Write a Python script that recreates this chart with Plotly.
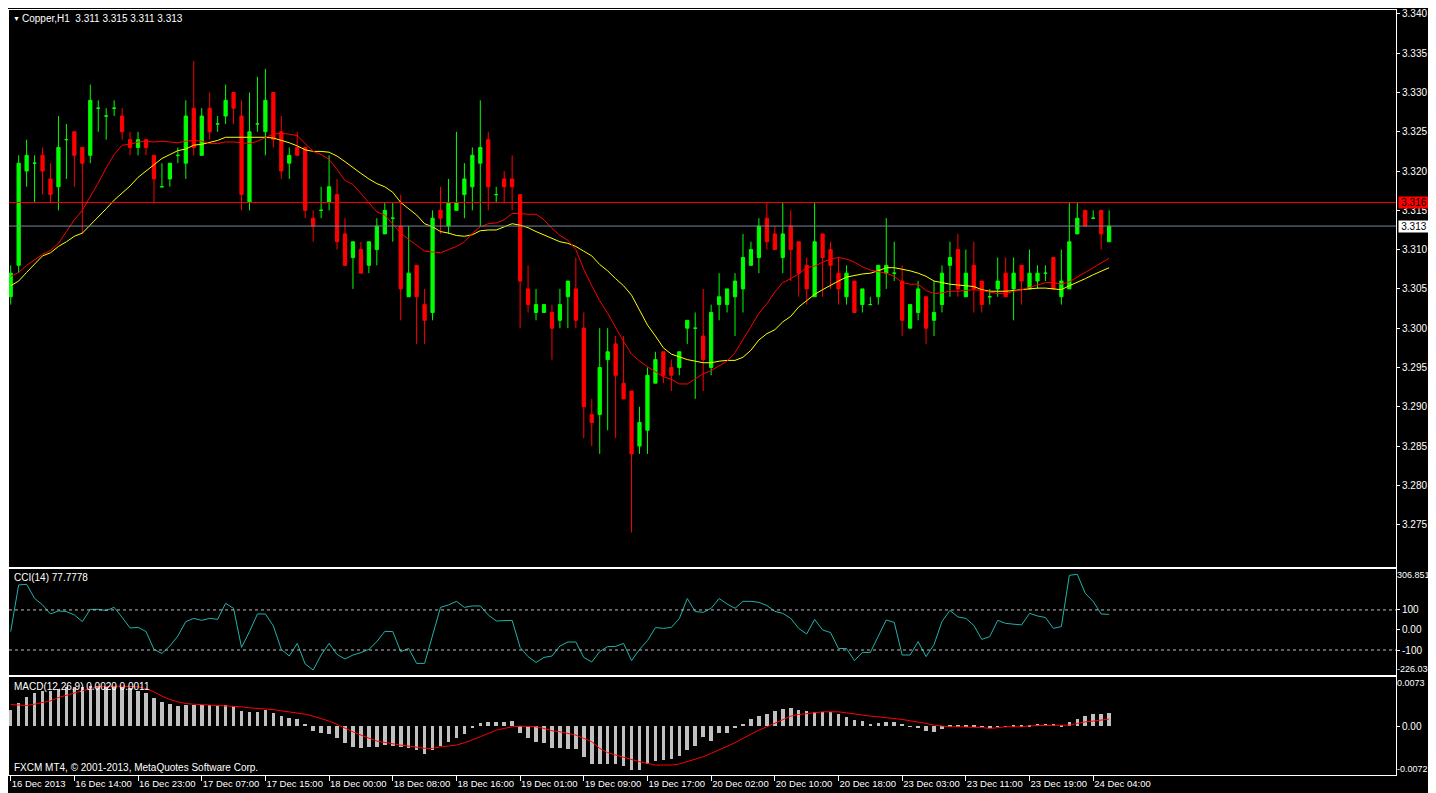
import plotly.graph_objects as go
from plotly.subplots import make_subplots

# %% data (Copper, H1)
bars = list(range(139))

open_ = [3.304, 3.308, 3.320, 3.321, 3.322, 3.319, 3.318, 3.324, 3.325, 3.323,
         3.322, 3.328, 3.327, 3.328, 3.327, 3.324, 3.323, 3.324, 3.322, 3.318,
         3.319, 3.322, 3.321, 3.328, 3.322, 3.328, 3.326, 3.327, 3.330, 3.327,
         3.316, 3.326, 3.325, 3.330, 3.325, 3.321, 3.323, 3.323, 3.314, 3.315,
         3.316, 3.317, 3.312, 3.309, 3.310, 3.308, 3.310, 3.312, 3.314, 3.313,
         3.304, 3.308, 3.303, 3.302, 3.315, 3.313, 3.315, 3.317, 3.318, 3.321,
         3.324, 3.317, 3.319, 3.319, 3.317, 3.305, 3.302, 3.302, 3.302, 3.301,
         3.304, 3.305, 3.300, 3.289, 3.289, 3.296, 3.298, 3.293, 3.292, 3.285,
         3.287, 3.293, 3.297, 3.295, 3.295, 3.300, 3.300, 3.299, 3.295, 3.303,
         3.303, 3.304, 3.305, 3.308, 3.309, 3.314, 3.312, 3.309, 3.313, 3.311,
         3.308, 3.304, 3.312, 3.310, 3.307, 3.304, 3.306, 3.303, 3.303, 3.304,
         3.307, 3.307, 3.306, 3.300, 3.302, 3.304, 3.301, 3.303, 3.308, 3.310,
         3.304, 3.308, 3.306, 3.304, 3.305, 3.307, 3.305, 3.308, 3.305, 3.306,
         3.307, 3.309, 3.304, 3.305, 3.312, 3.315, 3.314, 3.315, 3.311]
high = [3.308, 3.322, 3.324, 3.322, 3.323, 3.321, 3.327, 3.326, 3.325, 3.323,
        3.331, 3.329, 3.328, 3.329, 3.328, 3.325, 3.325, 3.324, 3.322, 3.321,
        3.321, 3.323, 3.329, 3.334, 3.328, 3.330, 3.327, 3.331, 3.330, 3.329,
        3.330, 3.332, 3.333, 3.330, 3.327, 3.323, 3.325, 3.323, 3.315, 3.318,
        3.322, 3.319, 3.314, 3.311, 3.311, 3.311, 3.314, 3.316, 3.316, 3.317,
        3.313, 3.308, 3.305, 3.315, 3.318, 3.319, 3.325, 3.321, 3.323, 3.329,
        3.325, 3.318, 3.320, 3.322, 3.317, 3.308, 3.305, 3.303, 3.303, 3.305,
        3.306, 3.309, 3.302, 3.291, 3.300, 3.300, 3.299, 3.299, 3.292, 3.290,
        3.295, 3.297, 3.297, 3.296, 3.297, 3.301, 3.302, 3.305, 3.303, 3.307,
        3.305, 3.307, 3.312, 3.311, 3.314, 3.316, 3.313, 3.316, 3.315, 3.311,
        3.309, 3.316, 3.312, 3.311, 3.309, 3.308, 3.306, 3.305, 3.304, 3.308,
        3.314, 3.311, 3.308, 3.303, 3.306, 3.304, 3.306, 3.308, 3.311, 3.312,
        3.310, 3.311, 3.306, 3.305, 3.309, 3.309, 3.309, 3.308, 3.310, 3.308,
        3.308, 3.309, 3.310, 3.316, 3.316, 3.315, 3.315, 3.315, 3.315]
low = [3.303, 3.307, 3.318, 3.316, 3.317, 3.316, 3.315, 3.319, 3.318, 3.312,
       3.321, 3.325, 3.324, 3.327, 3.324, 3.322, 3.322, 3.322, 3.316, 3.318,
       3.318, 3.321, 3.319, 3.322, 3.322, 3.324, 3.325, 3.326, 3.326, 3.315,
       3.315, 3.325, 3.322, 3.323, 3.319, 3.319, 3.322, 3.314, 3.311, 3.314,
       3.315, 3.310, 3.308, 3.305, 3.307, 3.307, 3.308, 3.312, 3.311, 3.301,
       3.304, 3.298, 3.298, 3.301, 3.312, 3.312, 3.315, 3.314, 3.315, 3.313,
       3.315, 3.316, 3.316, 3.315, 3.300, 3.302, 3.301, 3.302, 3.296, 3.300,
       3.300, 3.300, 3.286, 3.285, 3.284, 3.287, 3.286, 3.291, 3.274, 3.284,
       3.284, 3.293, 3.293, 3.292, 3.294, 3.298, 3.291, 3.292, 3.294, 3.301,
       3.302, 3.299, 3.302, 3.308, 3.307, 3.310, 3.310, 3.307, 3.306, 3.304,
       3.303, 3.304, 3.304, 3.305, 3.303, 3.303, 3.302, 3.302, 3.303, 3.303,
       3.305, 3.306, 3.299, 3.300, 3.301, 3.298, 3.299, 3.302, 3.304, 3.304,
       3.304, 3.302, 3.302, 3.303, 3.304, 3.304, 3.301, 3.303, 3.305, 3.305,
       3.306, 3.305, 3.303, 3.305, 3.312, 3.313, 3.314, 3.310, 3.311]
close = [3.307, 3.321, 3.322, 3.321, 3.320, 3.317, 3.323, 3.324, 3.322, 3.321,
         3.329, 3.328, 3.327, 3.328, 3.325, 3.323, 3.324, 3.323, 3.319, 3.318,
         3.321, 3.322, 3.327, 3.323, 3.327, 3.325, 3.326, 3.329, 3.328, 3.317,
         3.325, 3.326, 3.329, 3.324, 3.320, 3.322, 3.322, 3.315, 3.313, 3.315,
         3.318, 3.311, 3.308, 3.311, 3.307, 3.311, 3.313, 3.315, 3.314, 3.305,
         3.307, 3.304, 3.301, 3.314, 3.314, 3.316, 3.316, 3.319, 3.322, 3.323,
         3.318, 3.317, 3.318, 3.318, 3.306, 3.303, 3.303, 3.303, 3.300, 3.303,
         3.306, 3.301, 3.290, 3.288, 3.295, 3.297, 3.294, 3.291, 3.284, 3.288,
         3.294, 3.296, 3.294, 3.294, 3.297, 3.301, 3.300, 3.296, 3.302, 3.304,
         3.305, 3.306, 3.309, 3.310, 3.313, 3.311, 3.310, 3.312, 3.310, 3.307,
         3.305, 3.311, 3.309, 3.308, 3.305, 3.307, 3.302, 3.305, 3.303, 3.308,
         3.308, 3.307, 3.301, 3.303, 3.305, 3.300, 3.302, 3.307, 3.309, 3.305,
         3.307, 3.305, 3.303, 3.304, 3.306, 3.304, 3.307, 3.306, 3.307, 3.307,
         3.307, 3.305, 3.306, 3.311, 3.314, 3.313, 3.314, 3.312, 3.313]

# fast MA (red) and slow MA (yellow), as drawn on the chart
ma_fast = [3.3066, 3.3071, 3.3080, 3.3087, 3.3094, 3.3099, 3.3108, 3.3123, 3.3138, 3.3150,
           3.3167, 3.3185, 3.3204, 3.3221, 3.3233, 3.3234, 3.3237, 3.3238, 3.3237, 3.3238,
           3.3237, 3.3236, 3.3238, 3.3239, 3.3238, 3.3235, 3.3235, 3.3237, 3.3237, 3.3236,
           3.3235, 3.3238, 3.3243, 3.3247, 3.3248, 3.3247, 3.3245, 3.3235, 3.3225, 3.3221,
           3.3215, 3.3202, 3.3188, 3.3183, 3.3171, 3.3160, 3.3148, 3.3144, 3.3133, 3.3121,
           3.3113, 3.3106, 3.3098, 3.3097, 3.3096, 3.3100, 3.3104, 3.3110, 3.3121, 3.3129,
           3.3133, 3.3134, 3.3138, 3.3146, 3.3146, 3.3145, 3.3145, 3.3138, 3.3127, 3.3118,
           3.3112, 3.3100, 3.3075, 3.3054, 3.3035, 3.3019, 3.3000, 3.2983, 3.2967, 3.2958,
           3.2951, 3.2945, 3.2938, 3.2935, 3.2929, 3.2929, 3.2935, 3.2942, 3.2946, 3.2952,
           3.2958, 3.2969, 3.2985, 3.3002, 3.3019, 3.3031, 3.3046, 3.3058, 3.3063, 3.3069,
           3.3077, 3.3079, 3.3084, 3.3088, 3.3090, 3.3088, 3.3084, 3.3078, 3.3074, 3.3072,
           3.3070, 3.3066, 3.3058, 3.3056, 3.3056, 3.3048, 3.3044, 3.3045, 3.3047, 3.3047,
           3.3048, 3.3049, 3.3048, 3.3046, 3.3044, 3.3044, 3.3047, 3.3049, 3.3052, 3.3055,
           3.3058, 3.3058, 3.3056, 3.3059, 3.3065, 3.3070, 3.3077, 3.3083, 3.3089]
ma_slow = [3.3054, 3.3060, 3.3071, 3.3081, 3.3092, 3.3096, 3.3104, 3.3110, 3.3117, 3.3121,
           3.3131, 3.3142, 3.3152, 3.3163, 3.3172, 3.3181, 3.3192, 3.3200, 3.3208, 3.3216,
           3.3221, 3.3226, 3.3228, 3.3233, 3.3234, 3.3237, 3.3239, 3.3243, 3.3243, 3.3243,
           3.3243, 3.3243, 3.3243, 3.3242, 3.3239, 3.3236, 3.3232, 3.3227, 3.3225, 3.3225,
           3.3224, 3.3219, 3.3212, 3.3204, 3.3197, 3.3190, 3.3184, 3.3180, 3.3173, 3.3160,
           3.3152, 3.3144, 3.3133, 3.3129, 3.3123, 3.3121, 3.3118, 3.3117, 3.3119, 3.3124,
           3.3125, 3.3125, 3.3129, 3.3133, 3.3131, 3.3128, 3.3123, 3.3119, 3.3115, 3.3110,
           3.3108, 3.3104, 3.3098, 3.3092, 3.3081, 3.3073, 3.3063, 3.3054, 3.3042, 3.3023,
           3.3004, 3.2990, 3.2975, 3.2967, 3.2963, 3.2960, 3.2958, 3.2956, 3.2956, 3.2958,
           3.2959, 3.2959, 3.2963, 3.2972, 3.2985, 3.2993, 3.2998, 3.3008, 3.3015, 3.3027,
           3.3035, 3.3043, 3.3049, 3.3055, 3.3060, 3.3065, 3.3067, 3.3069, 3.3070, 3.3073,
           3.3077, 3.3077, 3.3075, 3.3073, 3.3070, 3.3066, 3.3060, 3.3058, 3.3056, 3.3055,
           3.3054, 3.3053, 3.3049, 3.3047, 3.3047, 3.3047, 3.3048, 3.3049, 3.3050, 3.3051,
           3.3051, 3.3050, 3.3049, 3.3054, 3.3058, 3.3063, 3.3068, 3.3073, 3.3077]

cci = [-8, 225, 228, 158, 125, 80, 95, 92, 75, 42,
       103, 103, 97, 113, 63, 10, 13, -8, -97, -117,
       -80, -30, 42, 58, 48, 58, 53, 133, 108, -87,
       -8, 80, 80, 20, -97, -130, -67, -170, -200, -125,
       -67, -122, -145, -125, -113, -97, -58, -7, -8, -108,
       -92, -167, -167, -25, 113, 125, 143, 113, 120, 120,
       75, 45, 48, 48, -87, -133, -162, -137, -130, -80,
       -60, -60, -137, -160, -108, -83, -82, -67, -153, -97,
       -53, 12, 8, 13, 57, 157, 92, 88, 108, 157,
       130, 108, 143, 143, 138, 122, 93, 83, 58, 8,
       -20, 53, 0, -13, -93, -92, -153, -112, -112, -33,
       50, 38, -125, -125, -58, -133, -73, 42, 98, 65,
       58, 23, -47, -33, 48, 33, 30, 25, 83, 70,
       62, 8, 17, 273, 278, 183, 142, 80, 77.78]

macd_hist = [0.00242, 0.00340, 0.00439, 0.00498, 0.00528, 0.00528, 0.00547, 0.00577, 0.00587, 0.00587,
             0.00597, 0.00597, 0.00597, 0.00597, 0.00587, 0.00562, 0.00528, 0.00498, 0.00424, 0.00365,
             0.00325, 0.00301, 0.00311, 0.00311, 0.00311, 0.00311, 0.00301, 0.00311, 0.00301, 0.00232,
             0.00212, 0.00212, 0.00242, 0.00202, 0.00153, 0.00118, 0.00104, 0.00035, -0.00064, -0.00094,
             -0.00113, -0.00168, -0.00251, -0.00311, -0.00320, -0.00311, -0.00301, -0.00281, -0.00291, -0.00301,
             -0.00330, -0.00360, -0.00419, -0.00360, -0.00291, -0.00232, -0.00168, -0.00113, -0.00030, 0.00054,
             0.00064, 0.00064, 0.00064, 0.00079, -0.00104, -0.00177, -0.00227, -0.00251, -0.00325, -0.00325,
             -0.00340, -0.00340, -0.00463, -0.00557, -0.00557, -0.00557, -0.00557, -0.00587, -0.00646, -0.00656,
             -0.00557, -0.00523, -0.00498, -0.00488, -0.00439, -0.00360, -0.00291, -0.00163, -0.00212, -0.00094,
             -0.00094, -0.00030, 0.00035, 0.00104, 0.00153, 0.00182, 0.00232, 0.00251, 0.00266, 0.00242,
             0.00232, 0.00217, 0.00217, 0.00217, 0.00182, 0.00143, 0.00094, 0.00084, 0.00035, 0.00044,
             0.00069, 0.00069, 0.00030, -0.00005, -0.00015, -0.00064, -0.00079, -0.00044, 0.00010, 0.00010,
             0.00020, 0.00005, -0.00005, -0.00015, -0.00005, -0.00005, 0.00005, 0.00005, 0.00020, 0.00035,
             0.00030, 0.00030, 0.00020, 0.00059, 0.00104, 0.00153, 0.00182, 0.00182, 0.00200]
macd_signal = [0.00325, 0.00316, 0.00311, 0.00330, 0.00350, 0.00380, 0.00429, 0.00463, 0.00498, 0.00528,
               0.00562, 0.00587, 0.00597, 0.00597, 0.00597, 0.00597, 0.00587, 0.00562, 0.00513, 0.00449,
               0.00399, 0.00365, 0.00340, 0.00330, 0.00325, 0.00320, 0.00311, 0.00306, 0.00301, 0.00291,
               0.00276, 0.00271, 0.00261, 0.00251, 0.00232, 0.00217, 0.00202, 0.00182, 0.00153, 0.00118,
               0.00079, 0.00030, -0.00030, -0.00079, -0.00128, -0.00177, -0.00217, -0.00237, -0.00261, -0.00276,
               -0.00291, -0.00311, -0.00325, -0.00325, -0.00301, -0.00291, -0.00276, -0.00242, -0.00202, -0.00153,
               -0.00104, -0.00054, -0.00030, -0.00005, 0.00005, 0.00005, -0.00005, -0.00030, -0.00064, -0.00079,
               -0.00104, -0.00128, -0.00177, -0.00227, -0.00325, -0.00389, -0.00424, -0.00458, -0.00498, -0.00523,
               -0.00547, -0.00572, -0.00572, -0.00572, -0.00557, -0.00523, -0.00488, -0.00449, -0.00399, -0.00350,
               -0.00301, -0.00242, -0.00177, -0.00113, -0.00054, -0.00005, 0.00044, 0.00104, 0.00153, 0.00177,
               0.00192, 0.00207, 0.00217, 0.00217, 0.00217, 0.00202, 0.00182, 0.00168, 0.00153, 0.00143,
               0.00133, 0.00118, 0.00104, 0.00084, 0.00069, 0.00044, 0.00020, 0.00005, -0.00005, -0.00005,
               -0.00005, -0.00005, -0.00015, -0.00030, -0.00015, -0.00005, -0.00005, -0.00005, 0.00010, 0.00010,
               0.00010, 0.00010, 0.00010, 0.00020, 0.00044, 0.00069, 0.00079, 0.00094, 0.00110]

tick_bars = [0, 8, 16, 24, 32, 40, 48, 56, 64, 72, 80, 88, 96, 104, 112, 120, 128, 136]
tick_labels = ["16 Dec 2013", "16 Dec 14:00", "16 Dec 23:00", "17 Dec 07:00", "17 Dec 15:00",
               "18 Dec 00:00", "18 Dec 08:00", "18 Dec 16:00", "19 Dec 01:00", "19 Dec 09:00",
               "19 Dec 17:00", "20 Dec 02:00", "20 Dec 10:00", "20 Dec 18:00", "23 Dec 03:00",
               "23 Dec 11:00", "23 Dec 19:00", "24 Dec 04:00"]
price_ticks = [3.275, 3.280, 3.285, 3.290, 3.295, 3.300, 3.305, 3.310, 3.315,
               3.320, 3.325, 3.330, 3.335, 3.340]
level_price = 3.316
bid_price = 3.313

FONT = "Liberation Sans"
GREEN = "#00ff00"
RED = "#ff0000"

# %% figure
fig = make_subplots(rows=3, cols=1, shared_xaxes=True, vertical_spacing=0.0)

# MT4 paints open == close bars in the bull colour, so split the bars by that rule
up = [i for i in bars if close[i] >= open_[i]]
dn = [i for i in bars if close[i] < open_[i]]
for idx, col in ((up, GREEN), (dn, RED)):
    fig.add_trace(go.Candlestick(
        x=idx,
        open=[open_[i] for i in idx], high=[high[i] for i in idx],
        low=[low[i] for i in idx], close=[close[i] for i in idx],
        increasing=dict(line=dict(color=col, width=1), fillcolor=col),
        decreasing=dict(line=dict(color=col, width=1), fillcolor=col),
        whiskerwidth=0, hoverinfo="skip"), row=1, col=1)

fig.add_trace(go.Scatter(x=bars, y=ma_slow, mode="lines",
                         line=dict(color="#ffff00", width=1)), row=1, col=1)
fig.add_trace(go.Scatter(x=bars, y=ma_fast, mode="lines",
                         line=dict(color=RED, width=1)), row=1, col=1)

fig.add_trace(go.Scatter(x=bars, y=cci, mode="lines",
                         line=dict(color="#20b2aa", width=1)), row=2, col=1)

fig.add_trace(go.Bar(x=bars, y=macd_hist, width=0.45,
                     marker=dict(color="#c0c0c0", line=dict(width=0))), row=3, col=1)
fig.add_trace(go.Scatter(x=bars, y=macd_signal, mode="lines",
                         line=dict(color=RED, width=1)), row=3, col=1)

axis_common = dict(showgrid=False, zeroline=False, showline=True, mirror=True,
                   linecolor="white", linewidth=1)
tickfont = dict(family=FONT, size=10, color="white")
smallfont = dict(family=FONT, size=9, color="white")

for n in ("xaxis", "xaxis2", "xaxis3"):
    fig.layout[n].update(range=[-0.2125, 174.04], rangeslider=dict(visible=False),
                         showticklabels=False, ticks="", **axis_common)
fig.layout.xaxis3.update(showticklabels=True, tickvals=tick_bars, ticktext=tick_labels,
                         ticks="outside", ticklen=5, tickcolor="white", tickangle=0,
                         ticklabelposition="outside right",
                         tickfont=dict(family=FONT, size=9.5, color="white"))

# page puts the figure 8px in from the top-left, so the figure is 8px smaller
fig.update_layout(
    yaxis=dict(domain=[0.2725, 1.0], range=[3.26966, 3.3405], side="right",
               tickvals=price_ticks, tickformat=".3f", ticks="outside", ticklen=3,
               tickcolor="white", tickfont=tickfont, ticklabeloverflow="allow",
               **axis_common),
    yaxis2=dict(domain=[0.1304, 0.2699], range=[-226.036, 306.8513], side="right",
                tickvals=[100, 0, -100], ticktext=["100", "0.00", "-100"],
                ticks="outside", ticklen=3, tickcolor="white", tickfont=tickfont,
                **axis_common),
    yaxis3=dict(domain=[0.0, 0.1278], range=[-0.0072, 0.0073], side="right",
                tickvals=[0], ticktext=["0.00"], ticks="outside", ticklen=3,
                tickcolor="white", tickfont=tickfont, **axis_common),
)

# levels on the price chart
fig.add_shape(type="line", xref="x domain", yref="y", x0=0, x1=1,
              y0=level_price, y1=level_price, line=dict(color=RED, width=1))
fig.add_shape(type="line", xref="x domain", yref="y", x0=0, x1=1,
              y0=bid_price, y1=bid_price, line=dict(color="#778899", width=1))
for lvl in (100, -100):
    fig.add_shape(type="line", xref="x2 domain", yref="y2", x0=0, x1=1,
                  y0=lvl, y1=lvl, line=dict(color="#c0c0c0", width=1, dash="3px,3px"))

ann = []
for val, bg in ((level_price, RED), (bid_price, "white")):
    ann.append(dict(xref="paper", yref="y", x=1, y=val, xanchor="left", xshift=2,
                    text=f"{val:.3f}", showarrow=False, bgcolor=bg, width=30, height=11,
                    borderpad=0, font=dict(family=FONT, size=10, color="black")))

# scale extremes drawn inside the indicator windows
for txt, y, anchor in (("306.8513", 0.2699, "top"), ("-226.036", 0.1304, "bottom"),
                       ("0.0073", 0.1278, "top"), ("-0.0072", 0.0, "bottom")):
    ann.append(dict(xref="paper", yref="paper", x=1, y=y, xanchor="left", yanchor=anchor,
                    xshift=0, borderpad=0, text=txt, showarrow=False, font=smallfont))

labels = [("\u25bc", 0.0015, 0.9883, 7),
          ("Copper,H1  3.311 3.315 3.311 3.313", 0.0080, 0.9883, 10),
          ("CCI(14) 77.7778", 0.0020, 0.2581, 10),
          ("MACD(12,26,9) 0.0020 0.0011", 0.0020, 0.1151, 10),
          ("FXCM MT4, \u00a9 2001-2013, MetaQuotes Software Corp.", 0.0020, 0.0100, 10)]
for txt, x, y, sz in labels:
    ann.append(dict(xref="paper", yref="paper", x=x, y=y, xanchor="left", yanchor="middle",
                    text=txt, showarrow=False, font=dict(family=FONT, size=sz, color="white")))

fig.update_layout(
    width=1428, height=785,
    margin=dict(l=0, r=40, t=0, b=18),
    paper_bgcolor="black", plot_bgcolor="black",
    showlegend=False, boxgap=0.42, bargap=0,
    annotations=ann,
    font=dict(family=FONT, color="white"),
)

fig.write_html("out.html")
